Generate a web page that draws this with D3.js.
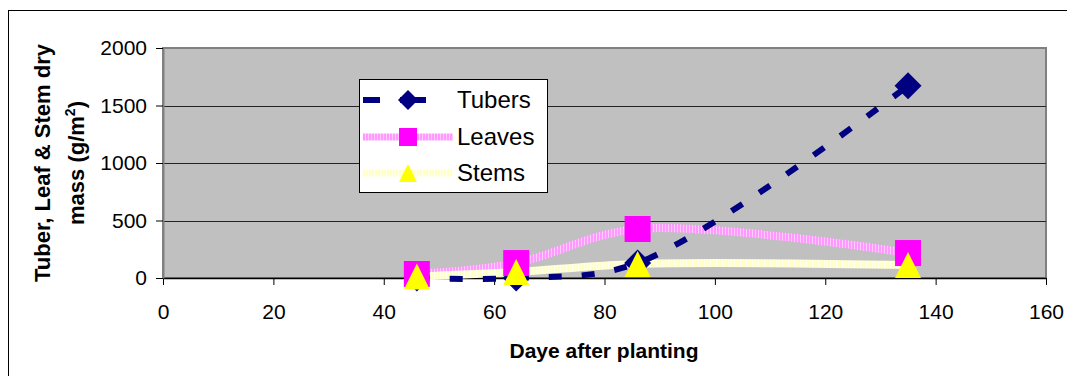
<!DOCTYPE html>
<html>
<head>
<meta charset="utf-8">
<script src="https://cdn.jsdelivr.net/npm/d3@7"></script>
<style>
  body { margin: 0; background: #fff; }
  text { font-family: Arial, "Liberation Sans", sans-serif; }
</style>
</head>
<body>
<div id="chart"></div>
<script>
    var width = 1067,
        height = 376;

// data
    var days = [46, 64, 86, 135];
    var tubers = [0, 0, 130, 1672];
    var leaves = [35, 130, 426, 217];
    var stems = [12, 52, 122, 112];
    var xTicks = [0, 20, 40, 60, 80, 100, 120, 140, 160];
    var yTicks = [0, 500, 1000, 1500, 2000];
    var seriesNames = ["Tubers", "Leaves", "Stems"];

    var svg = d3.select("#chart").append("svg")
        .attr("width", width)
        .attr("height", height);

    // stripy strokes like the old excel line patterns
    var defs = svg.append("defs");
    function stripes(id, base, stripe) {
        var p = defs.append("pattern")
            .attr("id", id)
            .attr("patternUnits", "userSpaceOnUse")
            .attr("width", 3).attr("height", 10);
        p.append("rect").attr("width", 3).attr("height", 10).attr("fill", base);
        p.append("rect").attr("width", 2).attr("height", 10).attr("fill", stripe);
    }
    stripes("pinkStripe", "#FFCCFF", "#FF99FF");
    stripes("yellowStripe", "#FFFFF0", "#FFFFCC");

    // outer chart frame (only top & left are in view)
    svg.append("rect")
        .attr("x", 8.5).attr("y", 10.5)
        .attr("width", 1100).attr("height", 400)
        .attr("fill", "none")
        .attr("stroke", "#000");

    var x = d3.scaleLinear().domain([0, 160]).range([163, 1046]);
    var y = d3.scaleLinear().domain([0, 2000]).range([278, 48]);

    // plot area
    svg.append("rect")
        .attr("x", x(0)).attr("y", y(2000))
        .attr("width", x(160) - x(0)).attr("height", y(0) - y(2000))
        .attr("fill", "#C0C0C0")
        .attr("stroke", "#808080")
        .attr("stroke-width", 2);

    svg.selectAll(".grid")
        .data(yTicks.filter(function (d) { return d > 0 && d < 2000; }))
        .enter().append("line")
        .attr("x1", x(0)).attr("x2", x(160))
        .attr("y1", function (d) { return Math.round(y(d)) + 0.5; })
        .attr("y2", function (d) { return Math.round(y(d)) + 0.5; })
        .attr("stroke", "#222");

    var xAxis = svg.append("g")
        .attr("transform", "translate(0," + y(0) + ")")
        .call(d3.axisBottom(x).tickValues(xTicks).tickSize(7).tickPadding(19).tickSizeOuter(0));
    xAxis.select(".domain").attr("stroke", "#000").attr("stroke-width", 1.5);
    xAxis.selectAll("text").style("font-size", "21px").attr("fill", "#000");

    var yAxis = svg.append("g")
        .attr("transform", "translate(" + x(0) + ",0)")
        .call(d3.axisLeft(y).tickValues(yTicks).tickFormat(d3.format("d")).tickSize(7).tickPadding(9).tickSizeOuter(0));
    yAxis.select(".domain").attr("stroke", "#808080").attr("stroke-width", 2);
    yAxis.selectAll("text").style("font-size", "21px").attr("fill", "#000");

    // axis titles
    svg.append("text")
        .attr("x", 604)
        .attr("y", 358)
        .style("text-anchor", "middle")
        .style("font-weight", "bold")
        .style("font-size", "21px")
        .text("Daye after planting");

    var yt = svg.append("text")
        .attr("transform", "translate(42,163) rotate(-90)")
        .style("text-anchor", "middle")
        .style("font-weight", "bold")
        .style("font-size", "22px");
    yt.append("tspan").attr("x", 0).attr("dy", "0.35em").text("Tuber, Leaf & Stem dry");
    yt.append("tspan").attr("x", 0).attr("dy", "1.58em").text("mass (g/m");
    yt.append("tspan").attr("dy", "-9").style("font-size", "14px").text("2");
    yt.append("tspan").attr("dy", "9").text(")");

    // smoothed lines
    var line = d3.line()
        .x(function (d) { return x(d[0]); })
        .y(function (d) { return y(d[1]); })
        .curve(d3.curveCatmullRom.alpha(0.5));

    function pts(vals) { return days.map(function (d, i) { return [d, vals[i]]; }); }

    svg.append("path").datum(pts(leaves))
        .attr("d", line).attr("fill", "none")
        .attr("stroke", "url(#pinkStripe)").attr("stroke-width", 8);
    svg.append("path").datum(pts(stems))
        .attr("d", line).attr("fill", "none")
        .attr("stroke", "url(#yellowStripe)").attr("stroke-width", 8);
    svg.append("path").datum(pts(tubers))
        .attr("d", line).attr("fill", "none")
        .attr("stroke", "#000080").attr("stroke-width", 6)
        .attr("stroke-dasharray", "13,20");

    // markers
    var diamond = function (s) { return "M0," + (-s) + "L" + s + ",0L0," + s + "L" + (-s) + ",0Z"; };
    var square = function (s) { return "M" + (-s) + "," + (-s) + "H" + s + "V" + s + "H" + (-s) + "Z"; };
    var triangle = function (s) { return "M0," + (-s) + "L" + s + "," + s + "L" + (-s) + "," + s + "Z"; };

    svg.selectAll(".tub").data(pts(tubers)).enter().append("path")
        .attr("transform", function (d) { return "translate(" + x(d[0]) + "," + y(d[1]) + ")"; })
        .attr("d", diamond(13.5)).attr("fill", "#000080");
    svg.selectAll(".lea").data(pts(leaves)).enter().append("path")
        .attr("transform", function (d) { return "translate(" + x(d[0]) + "," + y(d[1]) + ")"; })
        .attr("d", square(13)).attr("fill", "#FF00FF");
    svg.selectAll(".ste").data(pts(stems)).enter().append("path")
        .attr("transform", function (d) { return "translate(" + x(d[0]) + "," + y(d[1]) + ")"; })
        .attr("d", triangle(13)).attr("fill", "#FFFF00");

    // legend
    var lg = svg.append("g");
    lg.append("rect")
        .attr("x", 359.5).attr("y", 79.5)
        .attr("width", 188).attr("height", 113)
        .attr("fill", "#fff").attr("stroke", "#000");
    var rowY = [100, 137, 173];
    var lineStyle = [
        { stroke: "#000080", w: 6, dash: "17,20,26,40" },
        { stroke: "url(#pinkStripe)", w: 7, dash: null },
        { stroke: "url(#yellowStripe)", w: 7, dash: null }
    ];
    var legendMarks = [
        { d: diamond(10), fill: "#000080" },
        { d: square(9), fill: "#FF00FF" },
        { d: triangle(9), fill: "#FFFF00" }
    ];
    seriesNames.forEach(function (name, i) {
        lg.append("line")
            .attr("x1", 363).attr("x2", 453)
            .attr("y1", rowY[i]).attr("y2", rowY[i])
            .attr("stroke", lineStyle[i].stroke)
            .attr("stroke-width", lineStyle[i].w)
            .attr("stroke-dasharray", lineStyle[i].dash);
        lg.append("path")
            .attr("transform", "translate(408," + rowY[i] + ")")
            .attr("d", legendMarks[i].d)
            .attr("fill", legendMarks[i].fill);
        lg.append("text")
            .attr("x", 457).attr("y", rowY[i])
            .attr("dy", "0.35em")
            .style("font-size", "24px")
            .text(name);
    });
</script>
</body>
</html>
